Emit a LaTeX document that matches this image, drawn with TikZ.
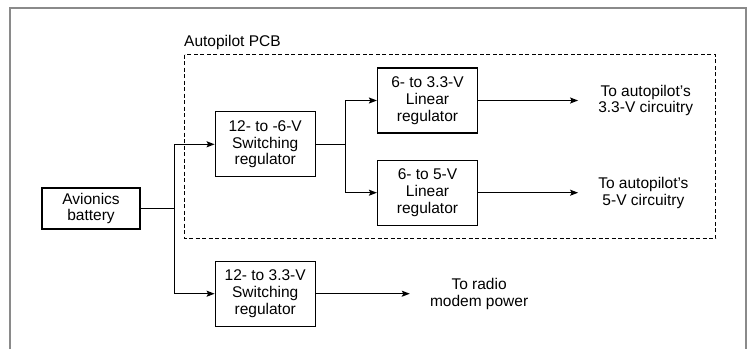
\documentclass[tikz,border=0pt]{standalone}
\usepackage{fontspec}
\setmainfont{Liberation Sans}
\usepackage{tikz}
\usetikzlibrary{arrows.meta,positioning}
\definecolor{framegray}{RGB}{138,138,138}

\begin{document}
\begin{tikzpicture}[
    x=1pt, y=-1pt,
    node distance=26pt,
    block/.style={rectangle, draw=black, line width=1.2pt, minimum width=100pt, minimum height=65pt, align=center, inner sep=0pt},
    source/.style={block, minimum width=98pt, minimum height=41pt},
    dest/.style={align=center, inner xsep=20pt, inner ysep=0pt},
    arrow/.style={line width=1.2pt, -{Stealth[length=8pt, width=6pt, inset=1.5pt]}},
    wire/.style={line width=1.2pt},
    every node/.style={font=\fontsize{15.5}{16.8}\selectfont}
]
\useasboundingbox (0,0) rectangle (751,349);

% Frame
\draw[framegray, line width=2.6pt] (10,349) -- (10,8) -- (746,8) -- (746,349);

% Nodes
\node[source] (batt) at (91,208.5) {Avionics\\battery};
\node[block, above right=10pt and 74pt of batt] (sw1) {12- to -6-V\\Switching\\regulator};
\node[block, below right=31pt and 74pt of batt] (sw2) {12- to 3.3-V\\Switching\\regulator};
\node[block] (lin1) at (427.5,100.5) {6- to 3.3-V\\Linear\\regulator};
\node[block, below=of lin1] (lin2) {6- to 5-V\\Linear\\regulator};
\node[dest, right=100pt of lin1] (out1) {To autopilot's\\3.3-V circuitry};
\node[dest, right=100pt of lin2] (out2) {To autopilot's\\5-V circuitry};
\node[dest, right=94pt of sw2] (out3) {To radio\\modem power};

% Autopilot PCB outline
\draw[line width=0.9pt, dash pattern=on 4pt off 2.5pt] (184.5,54.5) rectangle (715.5,238.5);
\node[anchor=base west, inner sep=0pt] (pcb) at (184,46.5) {Autopilot PCB};

% Arrows
\coordinate (split) at ([xshift=34pt]batt.east);
\coordinate (split2) at ([xshift=30pt]sw1.east);
\draw[wire] (batt.east) -- (split);
\draw[arrow] (split) |- (sw1.west);
\draw[arrow] (split) |- (sw2.west);
\draw[wire] (sw1.east) -- (split2);
\draw[arrow] (split2) |- (lin1.west);
\draw[arrow] (split2) |- (lin2.west);
\draw[arrow] (lin1) -- (out1);
\draw[arrow] (lin2) -- (out2);
\draw[arrow] (sw2) -- (out3);

\end{tikzpicture}
\end{document}
